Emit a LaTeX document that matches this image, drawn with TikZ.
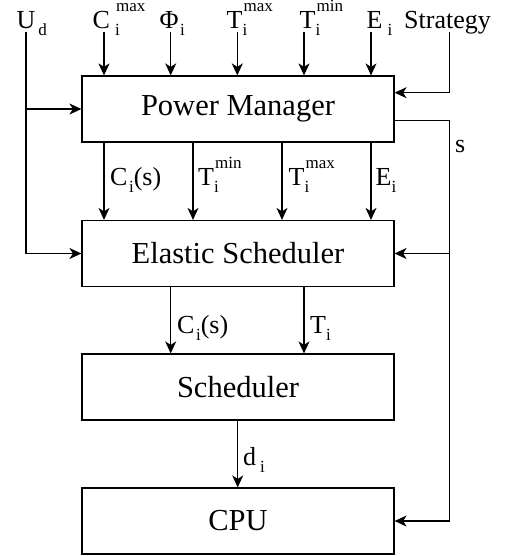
\documentclass[tikz,border=0pt]{standalone}
\usepackage{fontspec}
\setmainfont{Liberation Serif}
\usetikzlibrary{arrows.meta}

% label pieces: base letter size, small index size
\newcommand\lbsize{\fontsize{26}{27}\selectfont}
\newcommand\ixsize{\fontsize{17}{18}\selectfont}
\newcommand\lowix[1]{\raisebox{-7pt}{\ixsize #1}}
\newcommand\highix[1]{\raisebox{16.5pt}{\ixsize #1}}

\begin{document}
\begin{tikzpicture}[x=1pt,y=-1pt,
  block/.style={draw,line width=1.2pt,minimum width=312pt,minimum height=66pt,
                inner sep=0pt,font=\fontsize{30.5}{32}\selectfont},
  lbl/.style={anchor=base west,inner sep=0pt,font=\lbsize},
  arr/.style={line width=1.2pt,-{Stealth[length=12pt,width=11pt,inset=3.5pt]}}]
\useasboundingbox (0,0) rectangle (508,556);

% blocks
\node[block] (pm)  at (238,109)   {Power Manager};
\node[block] (es)  at (238,253.5) {Elastic Scheduler};
\node[block] (sch) at (238,387)   {Scheduler};
\node[block] (cpu) at (238,521)   {CPU};

% external inputs (top row)
\node[lbl] (lud)  at (16.5,28.5)  {U\hspace{3pt}\lowix{d}};
\node[lbl] (lcm)  at (92.5,28.5)  {C\hspace{5pt}\rlap{\lowix{i}}\hspace{1pt}\highix{max}};
\node[lbl] (lphi) at (159.5,28.5) {Φ\hspace{1.5pt}\lowix{i}};
\node[lbl] (ltx)  at (226.5,28.5) {T\rlap{\lowix{i}}\hspace{1pt}\highix{max}};
\node[lbl] (ltn)  at (299.5,28.5) {T\rlap{\lowix{i}}\hspace{1pt}\highix{min}};
\node[lbl] (le)   at (366.5,28.5) {E\hspace{5pt}\lowix{i}};
\node[lbl] (lst)  at (404,28.5)   {Strategy};

\coordinate (ud) at (26,32);
\coordinate (c1) at (104,32);
\coordinate (c2) at (170.7,32);
\coordinate (c3) at (237.3,32);
\coordinate (c4) at (304,32);
\coordinate (c5) at (371,32);
\coordinate (st) at (449.5,32);

\foreach \c in {c1,c2,c3,c4,c5}
  \draw[arr] (\c) -- (\c |- pm.north);

% U_d feeds both the power manager and the elastic scheduler
\draw[arr] (ud) |- (es.west);
\draw[arr] (ud |- pm.west) -- (pm.west);

% strategy input
\draw[arr] (st) |- ([yshift=16.3pt]pm.east);

% speed s fed back to elastic scheduler and CPU
\coordinate (sb) at (449.5,120.7);
\draw[arr] ([yshift=-11.7pt]pm.east) -- (sb) |- (cpu.east);
\draw[arr] (sb |- es.east) -- (es.east);
\node[lbl] (ls) at (455,153) {s};

% power manager -> elastic scheduler
\coordinate (m1) at (104,0);
\coordinate (m2) at (193,0);
\coordinate (m3) at (282,0);
\coordinate (m4) at (371,0);
\foreach \c in {m1,m2,m3,m4}
  \draw[arr] (pm.south -| \c) -- (es.north -| \c);
\node[lbl] (lmc) at (110,185) {C\hspace{1.5pt}\lowix{i}(s)};
\node[lbl] (lmn) at (198,185) {T\rlap{\lowix{i}}\hspace{1pt}\highix{min}};
\node[lbl] (lmx) at (288.5,185) {T\rlap{\lowix{i}}\hspace{1pt}\highix{max}};
\node[lbl] (lme) at (375.5,185) {E\lowix{i}};

% elastic scheduler -> scheduler
\coordinate (s1) at (170.7,0);
\coordinate (s2) at (304,0);
\foreach \c in {s1,s2}
  \draw[arr] (es.south -| \c) -- (sch.north -| \c);
\node[lbl] (lsc) at (177,333) {C\hspace{1.5pt}\lowix{i}(s)};
\node[lbl] (lst2) at (310,333) {T\lowix{i}};

% scheduler -> CPU
\coordinate (d1) at (237.7,0);
\draw[arr] (sch.south -| d1) -- (cpu.north -| d1);
\node[lbl] (ld) at (243,465) {d\hspace{4pt}\lowix{i}};
\end{tikzpicture}
\end{document}
